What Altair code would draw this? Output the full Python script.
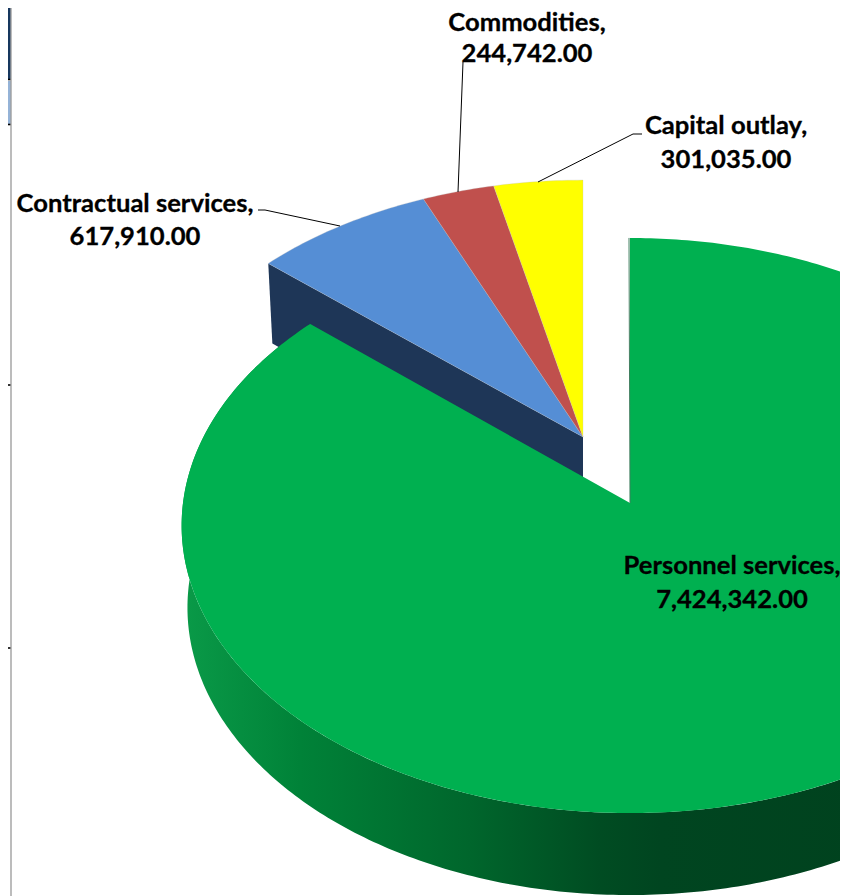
import math
import altair as alt

# ---- chart values ----
categories = ["Personnel services", "Contractual services", "Commodities", "Capital outlay"]
values = [7424342.00, 617910.00, 244742.00, 301035.00]
top_colors = ["#00B050", "#558ED5", "#C0504D", "#FFFF00"]

# ---- layout constants (reference pixels, page margin removed below) ----
OFF = 8
K = 0.0783
DEPTH = 82
GREEN = dict(cx=630, cy=503, a=447, b=285.8)
SMALL = dict(cx=583, cy=437, a=440, b=277)
SIDE_STOPS = [(183, "#0A9A48"), (300, "#008238"), (470, "#00662C"), (600, "#004C22"), (660, "#004520"), (1077, "#003F1C")]
LABEL_FONT = "Lato"
LABEL_SIZE = 25.6
LABEL_POS = {
    "Personnel services": (732, 566, 600),
    "Contractual services": (135, 204, 237),
    "Commodities": (527, 23, 54),
    "Capital outlay": (726, 126, 160),
}
LEADERS = [
    [(258, 210), (265, 210), (340, 226)],
    [(463, 62), (458, 192)],
    [(642, 134), (633, 134), (538, 182)],
]
TABLE_X = 11
TABLE_BLOCKS = [(0, 79, "#17375E"), (81, 124, "#95B3D7")]
TABLE_RULES = [79.5, 124.5, 385, 648]

total = sum(values)
edges = [0.0]
for v in values:
    edges.append(edges[-1] + v / total * 2 * math.pi)


def rim(t, cx, cy, a, b, dy=0, shrink=1.0):
    p = 1 / (1 + K * math.cos(t))
    return (cx + a * shrink * math.sin(t) * p - OFF, cy - b * math.cos(t) * p + dy - OFF)


def arc(t0, t1, geom, **kw):
    n = max(2, int(abs(t1 - t0) * 80))
    return [rim(t0 + (t1 - t0) * i / n, **geom, **kw) for i in range(n + 1)]


def shape(points, fill, **mark):
    pts = [list(p) for p in points]
    if pts[0] != pts[-1]:
        pts.append(pts[0])
    data = {"type": "FeatureCollection", "features": [
        {"type": "Feature", "properties": {}, "geometry": {"type": "Polygon", "coordinates": [pts]}}]}
    return alt.Chart(alt.Data(values=data, format=alt.DataFormat(property="features", type="json"))).mark_geoshape(
        fill=fill, **mark
    ).project(type="identity", scale=1, translate=[0, 0])


def polyline(points, color="#000000", width=1):
    coords = [[x - OFF, y - OFF] for x, y in points]
    data = {"type": "FeatureCollection", "features": [
        {"type": "Feature", "properties": {}, "geometry": {"type": "LineString", "coordinates": coords}}]}
    return alt.Chart(alt.Data(values=data, format=alt.DataFormat(property="features", type="json"))).mark_geoshape(
        filled=False, stroke=color, strokeWidth=width
    ).project(type="identity", scale=1, translate=[0, 0])


def apex(geom):
    return (geom["cx"] - OFF, geom["cy"] - OFF)


layers = []

# left-hand table fragment
for y0, y1, col in TABLE_BLOCKS:
    layers.append(shape([(0, y0 - OFF), (TABLE_X - OFF, y0 - OFF), (TABLE_X - OFF, y1 - OFF), (0, y1 - OFF)], col, strokeWidth=0))
for y in TABLE_RULES:
    layers.append(polyline([(0, y), (TABLE_X, y)], "#000000", 1.6))
layers.append(polyline([(TABLE_X, 0), (TABLE_X, 896)], "#A0A0A0", 1.4))

# dark cut face of the contractual-services slice
edge = rim(edges[1], **SMALL)
edge_low = rim(edges[1], **SMALL, dy=80, shrink=0.987)
ax, ay = apex(SMALL)
layers.append(shape([edge, (ax, ay), (ax, ay + 80), edge_low], "#1E3657", strokeWidth=0))

# top faces of the three small slices
for i in (1, 2, 3):
    pts = [apex(SMALL)] + arc(edges[i], edges[i + 1], SMALL)
    layers.append(shape(pts, top_colors[i], stroke="#BDBDBD", strokeWidth=0.3))

# green side wall with its horizontal shading
t_a, t_b = math.radians(60), edges[1]
wall = arc(t_a, t_b, GREEN) + arc(t_a, t_b, GREEN, dy=DEPTH, shrink=0.987)[::-1]
x_min = min(p[0] for p in wall) + OFF
x_max = max(p[0] for p in wall) + OFF
stops = [{"offset": max(0, min(1, (x - x_min) / (x_max - x_min))), "color": c} for x, c in SIDE_STOPS]
layers.append(shape(wall, {"gradient": "linear", "x1": 0, "x2": 1, "y1": 0, "y2": 0, "stops": stops}, strokeWidth=0))

# green top face
layers.append(shape([apex(GREEN)] + arc(edges[0], edges[1], GREEN), top_colors[0], strokeWidth=0))
layers.append(polyline([(GREEN["cx"] - 1, GREEN["cy"] - GREEN["b"] / (1 + K)), (GREEN["cx"], GREEN["cy"])], "#3F7F5F", 1))

# leader lines
for line in LEADERS:
    layers.append(polyline(line, "#000000", 1))

# labels
blank = alt.Data(values=[{}])
for name, val in zip(categories, values):
    x, y1, y2 = LABEL_POS[name]
    for y, txt in ((y1, name + ","), (y2, f"{val:,.2f}")):
        layers.append(
            alt.Chart(blank).mark_text(
                text=txt, font=LABEL_FONT, fontSize=LABEL_SIZE, fontWeight="bold",
                color="#000000", align="center", baseline="middle",
                stroke="#000000", strokeWidth=0.3,
            ).encode(x=alt.value(x - OFF), y=alt.value(y - OFF))
        )

chart = alt.layer(*layers).properties(
    width=832, height=888, padding=0, autosize=alt.AutoSizeParams(type="none"), background="#FFFFFF"
).configure_view(stroke=None)

chart.save("out.html", embed_options={"renderer": "svg", "actions": False})
